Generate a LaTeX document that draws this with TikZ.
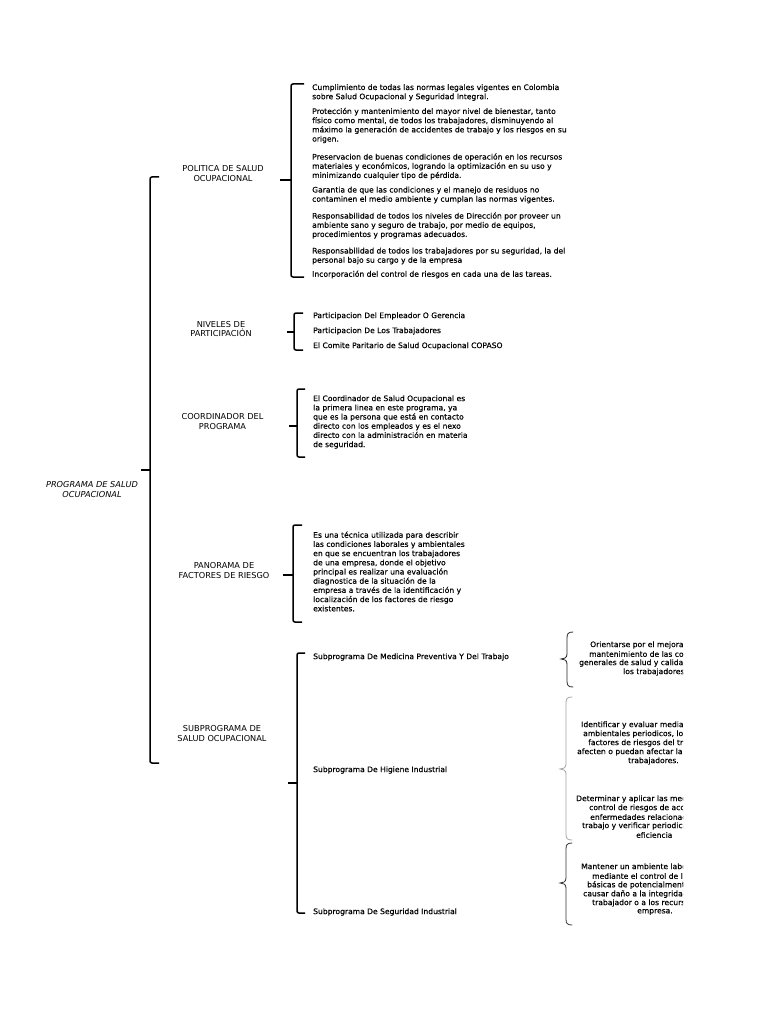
\documentclass[tikz,border=0pt]{standalone}
\usepackage{fontspec}
\setmainfont{DejaVu Sans}
\newfontfamily\labfont{DejaVu Sans}
\newfontfamily\itmfont[FakeBold=0.3]{DejaVu Sans}
\tikzset{
  lab/.style={font=\labfont\fontsize{8.2}{9.3}\selectfont, align=center, inner sep=0pt},
  itm/.style={font=\itmfont\fontsize{7.6}{9.2}\selectfont, align=left, anchor=west, inner sep=0pt},
  rit/.style={font=\itmfont\fontsize{7.6}{9.2}\selectfont, anchor=west, inner sep=0pt},
  br/.style={line width=1.5pt, rounded corners=2pt, black},
  cb/.style={line width=0.8pt, line cap=round},
}
% square bracket: x, top, bottom, tip y, tick, tip length
\newcommand\sqbr[6]{%
  \draw[br] ({#1+#5},#2) -- (#1,#2) -- (#1,#3) -- ({#1+#5},#3);
  \draw[br] (#1,#4) -- ({#1-#6},#4);}
% curly brace: x, top, bottom, tip y, colour
\newcommand\cbr[5]{%
  \draw[cb,#5] ({#1+6},#2) .. controls ({#1+1},#2) and (#1,{#2+2}) .. (#1,{#2+6})
    -- (#1,{#4-5}) .. controls (#1,{#4-1}) and ({#1-3},#4) .. ({#1-6},#4)
    .. controls ({#1-3},#4) and (#1,{#4+1}) .. (#1,{#4+5})
    -- (#1,{#3-6}) .. controls (#1,{#3-2}) and ({#1+1},#3) .. ({#1+6},#3);}
\begin{document}
\begin{tikzpicture}[x=1pt,y=-1pt]
\useasboundingbox (0,0) rectangle (768,1024);
\fill[white] (0,0) rectangle (768,1024);

% main label
\node[lab, font=\labfont\itshape\fontsize{8.2}{9.3}\selectfont] (main) at (92,489.5) {PROGRAMA DE SALUD\\OCUPACIONAL};
\sqbr{150}{177}{763}{470}{9}{9}

% level 2 labels
\node[lab] (pol) at (223,173.5) {POLITICA DE SALUD\\OCUPACIONAL};
\node[lab] (niv) at (221,329) {NIVELES DE\\PARTICIPACIÓN};
\node[lab] (coo) at (222.5,421.5) {COORDINADOR DEL\\PROGRAMA};
\node[lab] (pan) at (224,570.5) {PANORAMA DE\\FACTORES DE RIESGO};
\node[lab] (sub) at (222,733.5) {SUBPROGRAMA DE\\SALUD OCUPACIONAL};

\sqbr{291}{84}{277}{180}{13}{11}
\sqbr{294}{313}{350}{332}{9}{7}
\sqbr{297}{389}{457}{426}{8}{8}
\sqbr{293}{525}{622}{575}{9}{10}
\sqbr{297}{653}{913}{783}{8}{9}

% politica items
\node[itm] (p1) at (312,92.5) {Cumplimiento de todas las normas legales vigentes en Colombia\\sobre Salud Ocupacional y Seguridad Integral.};
\node[itm] (p2) at (312,125.5) {Protección y mantenimiento del mayor nivel de bienestar, tanto\\físico como mental, de todos los trabajadores, disminuyendo al\\máximo la generación de accidentes de trabajo y los riesgos en su\\origen.};
\node[itm] (p3) at (312,166.5) {Preservacion de buenas condiciones de operación en los recursos\\materiales y económicos, logrando la optimización en su uso y\\minimizando cualquier tipo de pérdida.};
\node[itm] (p4) at (312,195) {Garantia de que las condiciones y el manejo de residuos no\\contaminen el medio ambiente y cumplan las normas vigentes.};
\node[itm] (p5) at (312,225.5) {Responsabilidad de todos los niveles de Dirección por proveer un\\ambiente sano y seguro de trabajo, por medio de equipos,\\procedimientos y programas adecuados.};
\node[itm] (p6) at (312,256) {Responsabilidad de todos los trabajadores por su seguridad, la del\\personal bajo su cargo y de la empresa};
\node[itm] (p7) at (312,274.5) {Incorporación del control de riesgos en cada una de las tareas.};

% niveles items
\node[itm] (n1) at (313,316) {Participacion Del Empleador O Gerencia};
\node[itm] (n2) at (313,331) {Participacion De Los Trabajadores};
\node[itm] (n3) at (313,346) {El Comite Paritario de Salud Ocupacional COPASO};

% coordinador
\node[itm] (c1) at (313,422) {El Coordinador de Salud Ocupacional es\\la primera linea en este programa, ya\\que es la persona que está en contacto\\directo con los empleados y es el nexo\\directo con la administración en materia\\de seguridad.};

% panorama
\node[itm] (r1) at (313,571.5) {Es una técnica utilizada para describir\\las condiciones laborales y ambientales\\en que se encuentran los trabajadores\\de una empresa, donde el objetivo\\principal es realizar una evaluación\\diagnostica de la situación de la\\empresa a través de la identificación y\\localización de los factores de riesgo\\existentes.};

% subprogramas
\node[itm] (s1) at (313,657) {Subprograma De Medicina Preventiva Y Del Trabajo};
\node[itm] (s2) at (313,770) {Subprograma De Higiene Industrial};
\node[itm] (s3) at (313,912) {Subprograma De Seguridad Industrial};

% right braces
\cbr{567}{632}{687}{659}{black!85}
\cbr{566}{697}{840}{769}{black!35}
\cbr{566}{843}{925}{883}{black!80}

% right column text, clipped
\begin{scope}
\clip (540,600) rectangle (683,940);
\node[rit] (a1) at (590,645) {Orientarse por el mejoramiento y};
\node[rit] (a2) at (589,654) {mantenimiento de las condiciones};
\node[rit] (a3) at (579,663) {generales de salud y calidad de vida de};
\node[rit] (a4) at (623,672) {los trabajadores.};
\node[rit] (b1) at (581,725) {Identificar y evaluar mediante estudios};
\node[rit] (b2) at (583,734) {ambientales periodicos, los agentes y};
\node[rit] (b3) at (588,743) {factores de riesgos del trabajo que};
\node[rit] (b4) at (577,752) {afecten o puedan afectar la salud de los};
\node[rit] (b5) at (628,761) {trabajadores.};
\node[rit] (d1) at (576,799) {Determinar y aplicar las medidas para el};
\node[rit] (d2) at (589,808) {control de riesgos de accidentes y};
\node[rit] (d3) at (590,817) {enfermedades relacionadas con el};
\node[rit] (d4) at (582,826) {trabajo y verificar periodicamente su};
\node[rit] (d5) at (636,835) {eficiencia};
\node[rit] (m1) at (581,867) {Mantener un ambiente laboral seguro,};
\node[rit] (m2) at (592,876) {mediante el control de las causas};
\node[rit] (m3) at (587,885) {básicas de potencialmente pueden};
\node[rit] (m4) at (583,894) {causar daño a la integridad física del};
\node[rit] (m5) at (592,903) {trabajador o a los recursos de la};
\node[rit] (m6) at (637,912) {empresa.};
\end{scope}
\end{tikzpicture}
\end{document}
